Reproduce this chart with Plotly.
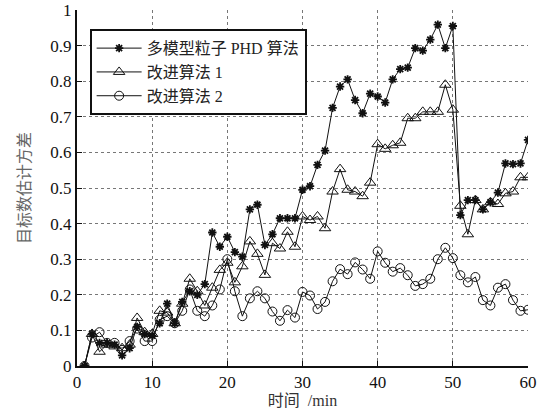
import plotly.graph_objects as go

t = list(range(1, 61))

phd = [0, 0.09, 0.065, 0.065, 0.06, 0.03, 0.05, 0.11, 0.09, 0.085,
       0.12, 0.175, 0.12, 0.18, 0.21, 0.20, 0.23, 0.375, 0.335, 0.363,
       0.32, 0.307, 0.44, 0.453, 0.34, 0.37, 0.415, 0.415, 0.415, 0.495,
       0.505, 0.565, 0.605, 0.725, 0.785, 0.805, 0.747, 0.71, 0.765, 0.757,
       0.74, 0.805, 0.834, 0.838, 0.893, 0.886, 0.917, 0.959, 0.893, 0.955,
       0.424, 0.466, 0.466, 0.44, 0.46, 0.487, 0.569, 0.567, 0.569, 0.635]

alg1 = [0, 0.09, 0.04, 0.06, 0.055, 0.05, 0.06, 0.135, 0.095, 0.09,
        0.155, 0.15, 0.12, 0.175, 0.245, 0.21, 0.17, 0.22, 0.27, 0.29,
        0.235, 0.28, 0.35, 0.315, 0.256, 0.345, 0.33, 0.377, 0.335, 0.42,
        0.41, 0.42, 0.387, 0.49, 0.553, 0.495, 0.49, 0.477, 0.515, 0.623,
        0.61, 0.62, 0.627, 0.696, 0.696, 0.714, 0.714, 0.714, 0.79, 0.72,
        0.45, 0.37, 0.466, 0.44, 0.46, 0.455, 0.485, 0.49, 0.53, 0.53]

alg2 = [0, 0.08, 0.095, 0.065, 0.065, 0.045, 0.07, 0.105, 0.07, 0.07,
        0.13, 0.14, 0.12, 0.155, 0.215, 0.155, 0.14, 0.17, 0.215, 0.30,
        0.21, 0.14, 0.19, 0.21, 0.19, 0.153, 0.127, 0.157, 0.136, 0.208,
        0.198, 0.16, 0.18, 0.238, 0.272, 0.258, 0.291, 0.271, 0.245, 0.322,
        0.29, 0.265, 0.275, 0.255, 0.225, 0.23, 0.245, 0.30, 0.332, 0.303,
        0.255, 0.235, 0.25, 0.185, 0.17, 0.22, 0.23, 0.185, 0.155, 0.158]

names = ["多模型粒子 PHD 算法", "改进算法 1", "改进算法 2"]
x_ticks = [0, 10, 20, 30, 40, 50, 60]
y_ticks = [0, 0.1, 0.2, 0.3, 0.4, 0.5, 0.6, 0.7, 0.8, 0.9, 1]
y_tick_labels = ["0", "0.1", "0.2", "0.3", "0.4", "0.5", "0.6", "0.7", "0.8", "0.9", "1"]

serif = "Liberation Serif, Noto Sans CJK SC, serif"
cjk = "Liberation Serif, Noto Sans CJK SC"

fig = go.Figure()
styles = [
    dict(symbol="asterisk-open", size=7, line=dict(width=1.8, color="#111")),
    dict(symbol="triangle-up-open", size=10, color="#111", line=dict(width=1, color="#111")),
    dict(symbol="circle-open", size=9, color="#111", line=dict(width=1, color="#111")),
]
for nm, ys, mk in zip(names, [phd, alg1, alg2], styles):
    fig.add_trace(go.Scatter(
        x=t, y=ys, name=nm, mode="lines+markers",
        line=dict(color="#111", width=1),
        marker=mk,
    ))

fig.update_layout(
    width=542, height=409,
    margin=dict(l=77, r=14, t=10, b=43),
    paper_bgcolor="white", plot_bgcolor="white",
    font=dict(family=serif, color="#111", size=16),
    showlegend=True,
    legend=dict(
        x=0.028, y=0.946, xanchor="left", yanchor="top",
        bgcolor="white", bordercolor="#111", borderwidth=2,
        font=dict(family=cjk, size=16, color="#222"),
        tracegroupgap=0, itemwidth=45,
    ),
    xaxis=dict(
        range=[0, 60], tickvals=x_ticks, ticktext=[str(v) for v in x_ticks],
        showline=True, linecolor="#111", linewidth=2,
        ticks="inside", ticklen=5, tickcolor="#111",
        showgrid=True, gridcolor="#777", griddash="dot", gridwidth=1,
        zeroline=False, automargin=False,
        tickfont=dict(family=serif, size=17, color="#111"),
        title=dict(text="时间  /min", font=dict(family=cjk, size=16, color="#333"), standoff=0),
    ),
    yaxis=dict(
        range=[0, 1], tickvals=y_ticks, ticktext=y_tick_labels,
        showline=True, linecolor="#111", linewidth=2,
        ticks="inside", ticklen=5, tickcolor="#111",
        showgrid=True, gridcolor="#777", griddash="dot", gridwidth=1,
        zeroline=False, automargin=False,
        tickfont=dict(family=serif, size=17, color="#111"),
        title=dict(text="目标数估计方差", font=dict(family=cjk, size=16, color="#666"), standoff=16),
    ),
)

fig.write_html("out.html")
